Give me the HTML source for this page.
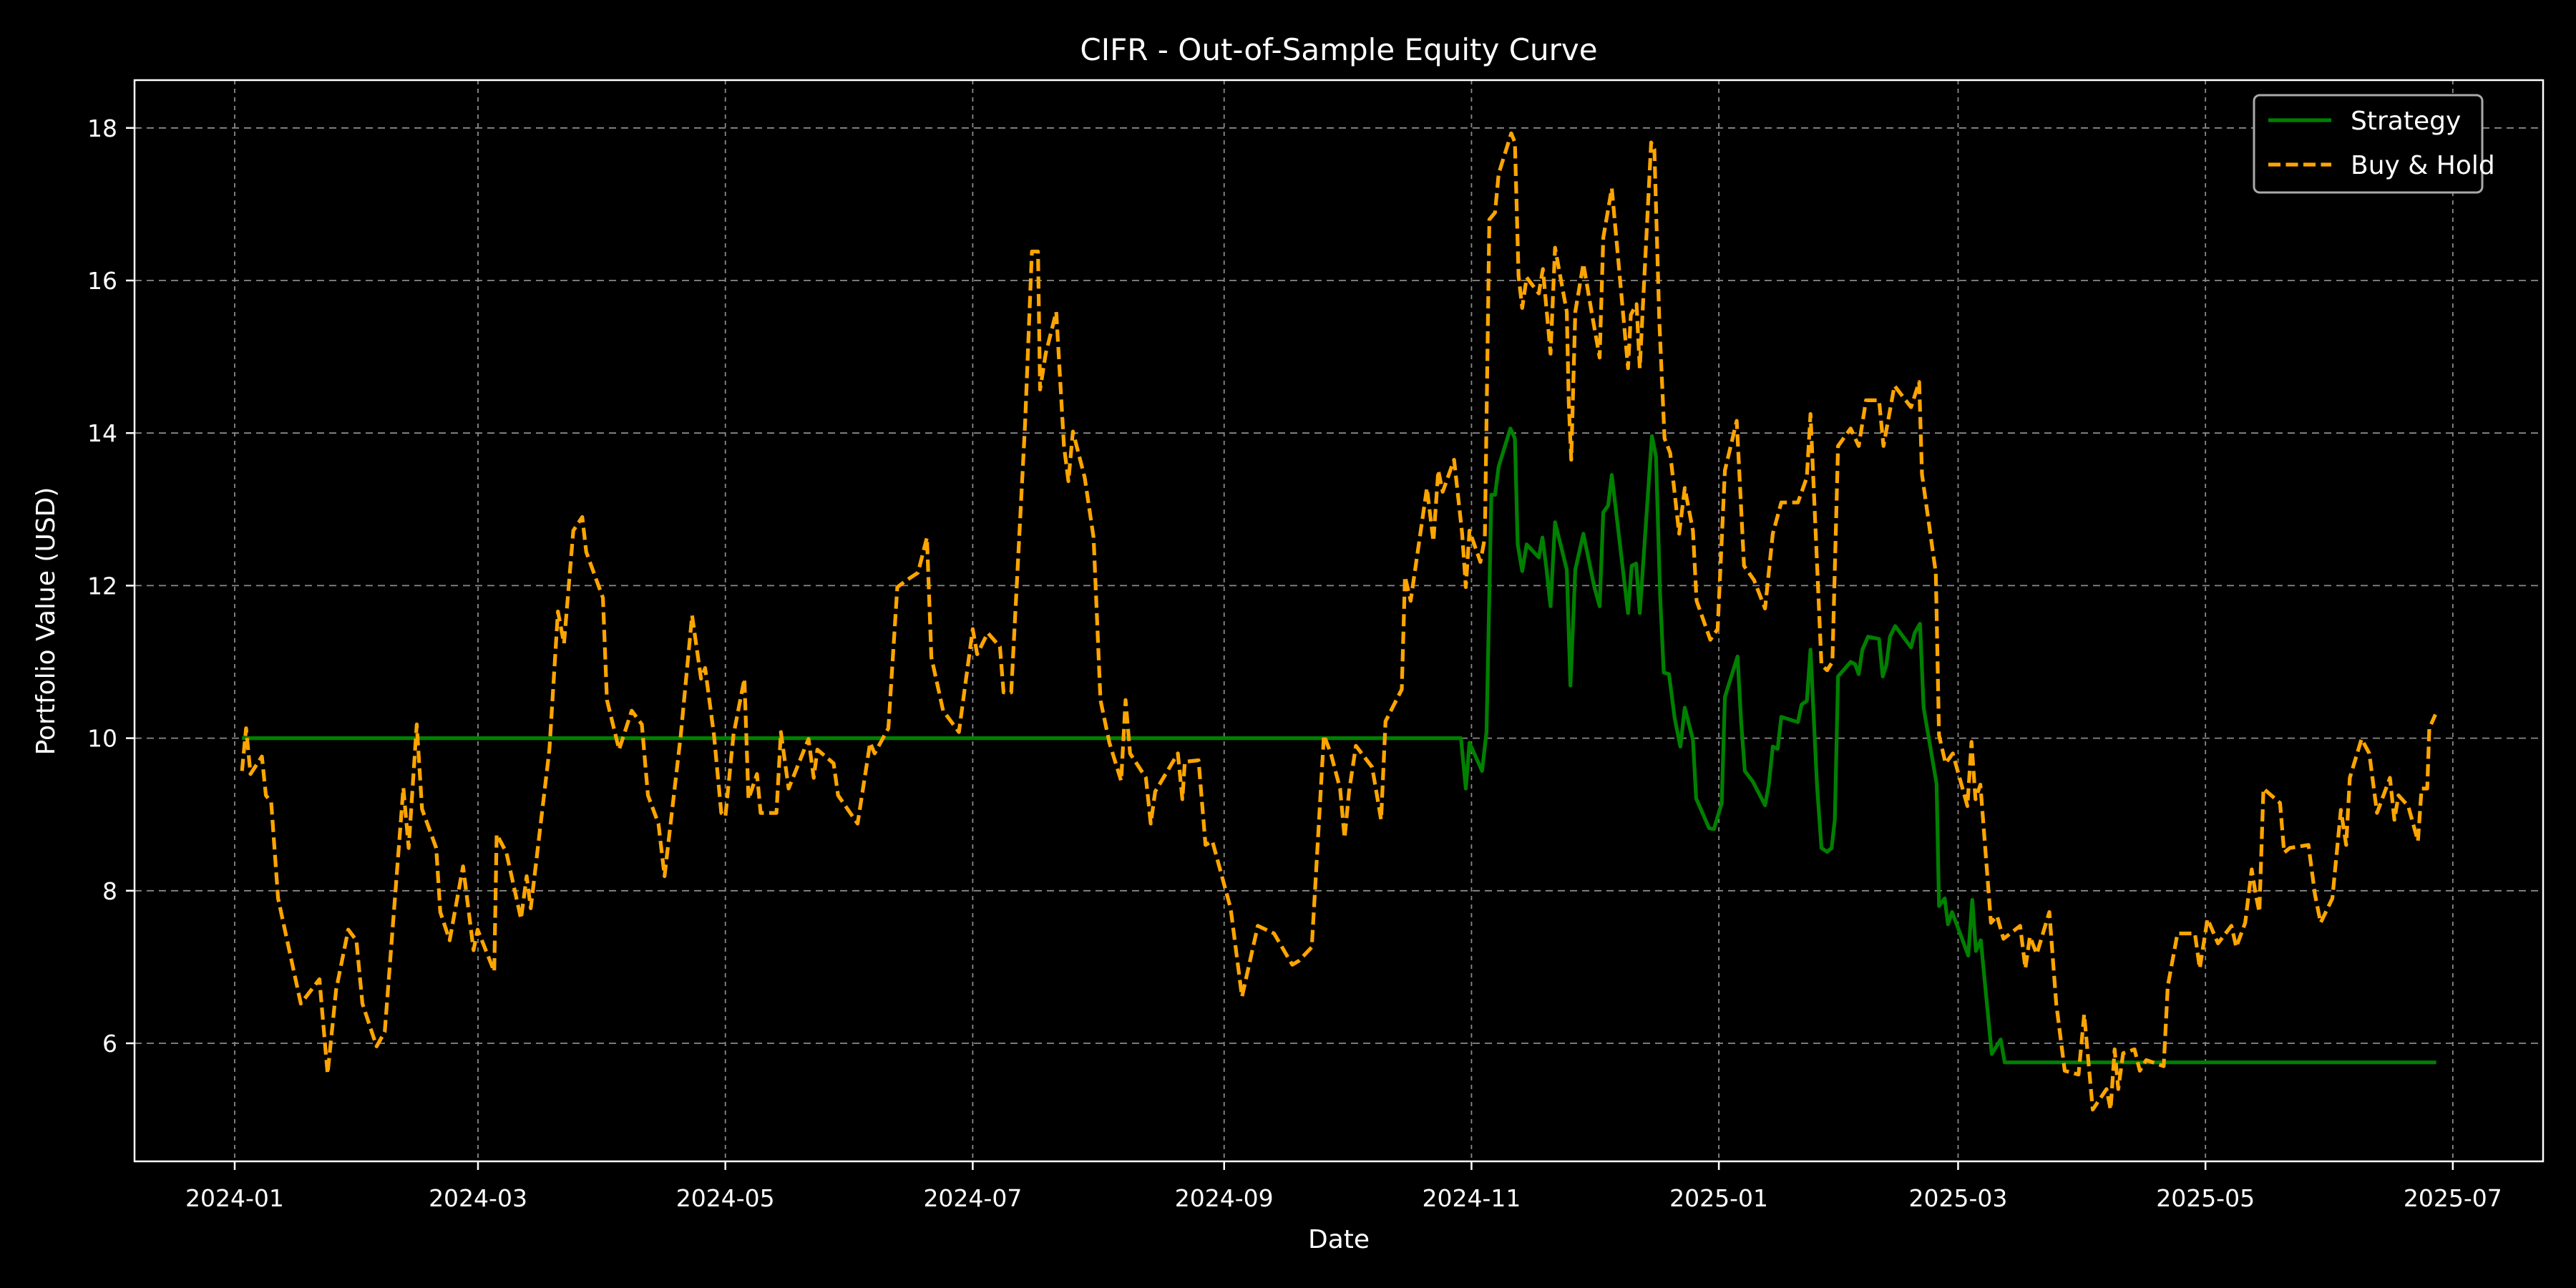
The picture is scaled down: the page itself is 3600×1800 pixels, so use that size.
<!DOCTYPE html>
<html><head><meta charset="utf-8"><style>
html,body{margin:0;padding:0;background:#000;}
svg{display:block;font-family:"DejaVu Sans","Liberation Sans",sans-serif;}
</style></head><body>
<svg id="chart" width="3600" height="1800" viewBox="0 0 3600 1800">
<rect x="0" y="0" width="3600" height="1800" fill="#000"/>
<g id="grid"></g>
<g id="series"></g>
<rect x="188" y="112" width="3366" height="1511" fill="none" stroke="#fff" stroke-width="2.5"/>
<g id="ticks"></g>
<text x="1871" y="84" text-anchor="middle" font-size="42" fill="#fff">CIFR - Out-of-Sample Equity Curve</text>
<text x="1871" y="1744" text-anchor="middle" font-size="36" fill="#fff">Date</text>
<text x="0" y="0" transform="translate(76,868) rotate(-90)" text-anchor="middle" font-size="36" fill="#fff">Portfolio Value (USD)</text>
<g>
<rect x="3150" y="133" width="319" height="136" rx="8" fill="#000" stroke="#aaa" stroke-width="3"/>
<line x1="3170" y1="168" x2="3258" y2="168" stroke="#008000" stroke-width="5.2"/>
<text x="3285" y="181" font-size="36" fill="#fff">Strategy</text>
<line x1="3170" y1="230" x2="3258" y2="230" stroke="#FFA500" stroke-width="5.2" stroke-dasharray="17,7.5"/>
<text x="3285" y="243" font-size="36" fill="#fff">Buy &amp; Hold</text>
</g>
</svg>
<script>
// Days since 2024-01-01 and portfolio values
const bhDays = [1.8,2.8,3.9,6.7,7.7,9,10.7,16.3,20.9,22.9,25,28,30,31.5,35,37,41.6,42.9,44.9,46.2,49.7,50.7,53,56.3,58.9,59.9,64,64.6,67,70.6,72,73,77.6,79.7,81.2,83.5,85.7,86.7,90.8,91.8,94.8,97.9,100.4,101.9,104.5,106,110,112.8,115,116,118.2,120,121,123,125.7,126.7,128.8,129.7,133.6,134.7,136.6,141.5,142.8,143.7,147.7,148.8,153.6,156.7,157.8,161.2,163.4,165.7,168.5,170.7,171.8,174.7,178.6,182,183.1,185.7,188.7,189.6,191.5,194.9,196.6,198.1,198.6,200,202.6,204.5,205.6,206.7,209.6,211.8,213.5,215.7,218.6,219.7,220.8,224.7,225.9,227,232.6,233.7,234.3,237.7,239.4,241.1,245.6,248.4,252.3,256.3,260.8,262.4,265.6,268.6,270.3,272.6,273.7,274.8,276.5,280.5,282.7,283.8,287.8,288.6,290,294,295.6,296.8,297.9,300.7,302.7,303.6,304.5,307.2,308.3,309.4,310.8,311.7,314.8,315.7,316.6,317.5,318.6,321.6,322.6,324.5,325.6,328.5,329,329.6,330.6,332.6,334.6,336.6,337.5,339.6,341.4,343.6,344.3,345.7,346.5,349.3,350.1,351.3,352.6,354,356.2,357.6,359.6,360.5,363.9,365.7,367.5,370.4,372.2,374.7,377.4,379.3,381.4,385.5,387.7,388.6,391.3,392.7,394,395.4,398.5,400.5,402.3,405.5,406.6,409.3,413.4,415.4,416.1,419.5,420.3,421.9,423.7,427.3,428.3,429.3,430.5,433.1,434.6,436.2,440.3,441.6,442.7,444.4,447.5,449.2,451.3,454.7,456.1,458.2,461.6,462.6,463.6,464.5,465.7,468.5,469.8,471.4,475.7,476.7,479.1,483.4,484.6,486.5,489.1,492.4,493.6,495.8,497.4,498.4,499.3,500.3,504.4,505.4,506.8,511.4,513,514.4,517.3,519.4,520.7,521.6,524.5,526.4,528.3,531.5,532.6,533.6,536,538.4,539.3,540.7,541.2,542.7];
const bhValues = [9.57,10.13,9.53,9.76,9.25,9.16,7.9,6.52,6.84,5.6,6.7,7.49,7.35,6.52,5.96,6.15,9.35,8.56,10.18,9.07,8.56,7.72,7.35,8.32,7.22,7.49,6.94,8.74,8.5,7.63,8.19,7.77,9.85,11.66,11.24,12.72,12.9,12.44,11.84,10.5,9.85,10.36,10.18,9.25,8.88,8.19,10.04,11.61,10.78,10.92,10.04,9.02,8.97,10.04,10.78,9.2,9.53,9.02,9.02,10.08,9.34,9.99,9.48,9.85,9.67,9.25,8.88,9.94,9.8,10.13,11.98,12.07,12.17,12.63,11.06,10.36,10.08,11.43,11.1,11.38,11.2,10.6,10.6,14.11,16.38,16.38,14.57,15.04,15.59,13.83,13.37,14.02,13.42,12.63,10.5,9.94,9.44,10.5,9.8,9.48,8.88,9.3,9.8,9.2,9.69,9.71,8.6,8.65,7.77,6.61,7.54,7.44,7.03,7.08,7.26,10.04,9.8,9.34,8.69,9.3,9.9,9.62,8.93,10.22,10.64,12.12,11.8,13.28,12.58,13.51,13.23,13.65,12.68,11.98,12.72,12.31,12.63,16.8,16.89,17.4,17.93,17.81,16.06,15.64,16.04,15.83,16.15,15.04,16.43,15.59,14.39,13.65,15.59,16.22,15.59,14.99,16.56,17.21,16.15,14.85,15.55,15.69,14.85,17.81,17.72,15.5,13.93,13.74,12.68,13.28,12.72,11.8,11.29,11.43,13.51,14.16,12.26,12.07,11.7,12.68,13.09,13.09,13.42,14.25,10.96,10.89,11.0,13.83,14.06,13.83,14.43,14.43,13.83,14.62,14.34,14.67,13.46,12.17,10.04,9.67,9.8,9.11,9.95,9.2,9.39,7.58,7.67,7.37,7.54,6.98,7.4,7.17,7.72,6.52,5.64,5.59,6.38,5.13,5.4,5.13,5.92,5.4,5.87,5.92,5.64,5.78,5.7,6.75,7.44,7.44,6.98,7.63,7.31,7.54,7.26,7.58,8.28,7.95,7.72,9.34,9.15,8.5,8.56,8.6,7.95,7.58,7.9,9.06,8.6,9.48,9.99,9.8,9.02,9.48,8.93,9.25,9.11,8.65,9.34,9.34,10.13,10.31];
const stDays = [1.8,302.4,303.6,304.5,307.6,308.7,309.9,310.8,311.7,314.6,315.7,316.4,317.5,318.6,321.6,322.5,323.4,324.5,325.6,328.5,329.4,330.6,332.6,335.3,336.6,337.5,338.7,339.6,343.6,344.5,345.6,346.5,349.5,350.5,351.5,352.4,353.7,355.1,356.5,357.6,359.6,360.4,363.6,364.8,366.7,367.5,370.6,371.5,372.4,374.4,377.4,378.3,379.3,380.5,381.4,385.5,386.4,387.7,388.6,390.2,391.3,392.7,393.8,394.6,395.4,398.5,399.6,400.5,401.4,402.8,405.5,406.4,407.3,408.2,409.5,413.4,414.3,415.6,416.5,419.7,420.3,421.7,422.5,423.5,425.5,427.5,428.5,429.4,430.6,433.3,435.5,436.5,542.9];
const stValues = [10,10,9.34,9.94,9.57,10.08,13.19,13.19,13.56,14.06,13.93,12.54,12.19,12.54,12.37,12.63,12.26,11.73,12.83,12.21,10.69,12.21,12.68,11.98,11.73,12.96,13.05,13.45,11.64,12.26,12.29,11.64,13.96,13.69,11.88,10.86,10.84,10.26,9.89,10.4,9.98,9.21,8.82,8.81,9.15,10.54,11.07,10.21,9.57,9.43,9.12,9.38,9.89,9.86,10.28,10.21,10.44,10.49,11.16,9.38,8.56,8.51,8.56,8.93,10.81,11.0,10.97,10.84,11.16,11.33,11.3,10.81,10.96,11.33,11.47,11.19,11.38,11.5,10.4,9.4,7.8,7.9,7.56,7.72,7.44,7.15,7.88,7.21,7.35,5.86,6.05,5.75,5.75];
const xTickDays = [0,60,121,182,244,305,366,425,486,547];
const xTickLabels = ["2024-01","2024-03","2024-05","2024-07","2024-09","2024-11","2025-01","2025-03","2025-05","2025-07"];
const yTicks = [6,8,10,12,14,16,18];

const X0=188,X1=3554,Y0=112,Y1=1623;
function xs(d){return 328 + d*5.667;}
function ys(v){return 1458 - (v-6)*106.6;}
const NS="http://www.w3.org/2000/svg";
const grid=document.getElementById('grid'), ticks=document.getElementById('ticks'), series=document.getElementById('series');
function mk(tag,attrs,parent){const e=document.createElementNS(NS,tag);for(const k in attrs)e.setAttribute(k,attrs[k]);parent.appendChild(e);return e;}

xTickDays.forEach((d,i)=>{
  const x=xs(d);
  const g=mk('line',{x1:x,y1:Y0,x2:x,y2:Y1,stroke:'#8a8a8a','stroke-width':1.8,'stroke-dasharray':'6,6'},grid);
  
  
  const t=mk('line',{x1:x,y1:Y1,x2:x,y2:Y1+12,stroke:'#fff','stroke-width':2.5},ticks);
  
  
  const l=mk('text',{x:x,y:1686,'text-anchor':'middle','font-size':33,fill:'#fff'},ticks);
  l.textContent=xTickLabels[i];
  
  
});
yTicks.forEach(v=>{
  const y=ys(v);
  const g=mk('line',{x1:X0,y1:y,x2:X1,y2:y,stroke:'#8a8a8a','stroke-width':1.8,'stroke-dasharray':'10,7'},grid);
  
  
  const t=mk('line',{x1:X0-12,y1:y,x2:X0,y2:y,stroke:'#fff','stroke-width':2.5},ticks);
  
  
  const l=mk('text',{x:164,y:y+12,'text-anchor':'end','font-size':33,fill:'#fff'},ticks);
  l.textContent=String(v);
  
  
});
function pts(ds,vs){return ds.map((d,i)=>xs(d).toFixed(1)+','+ys(vs[i]).toFixed(1)).join(' ');}
const st=mk('polyline',{points:pts(stDays,stValues),fill:'none',stroke:'#008000','stroke-width':5.2,'stroke-linejoin':'round'},series);


const bh=mk('polyline',{points:pts(bhDays,bhValues),fill:'none',stroke:'#FFA500','stroke-width':5.2,'stroke-dasharray':'17,7.5','stroke-linejoin':'round'},series);


</script>
</body></html>
